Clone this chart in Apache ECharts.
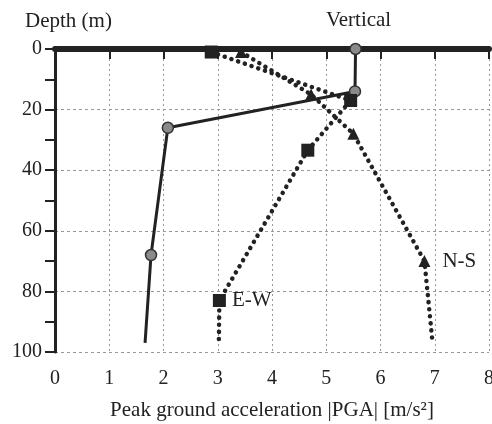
<!DOCTYPE html>
<html>
<head>
<meta charset="utf-8">
<script src="https://cdn.jsdelivr.net/npm/echarts@6/dist/echarts.min.js"></script>
<style>
  html, body { margin: 0; padding: 0; background: #fff; }
  #main { width: 492px; height: 424px; }
</style>
</head>
<body>
<div id="main"></div>
<script>
// PGA profiles vs depth
var vertPga = [5.54, 5.53, 2.08, 1.77, 1.66];
var vertDepth = [0, 14, 26, 68, 97];

var ewPga = [2.88, 5.45, 4.66, 3.03, 3.02];
var ewDepth = [1, 17, 33.4, 83, 97];

var nsPga = [3.43, 4.72, 5.5, 6.81, 6.96];
var nsDepth = [1, 15, 28, 70, 97];

var xTicks = [0, 1, 2, 3, 4, 5, 6, 7, 8];
var yTicks = [0, 20, 40, 60, 80, 100];

function pairs(xs, ys) {
    var out = [];
    for (var i = 0; i < xs.length; i++) out.push([xs[i], ys[i]]);
    return out;
}

var serif = 'Liberation Serif';
var ink = '#222';

var myChart = echarts.init(document.getElementById('main'));
var option = {
    animation : false,
    title : {
	text : 'Depth (m)',
	left : 20,
	top : 6,
	textStyle : { fontFamily : serif, fontSize : 21, fontWeight : 'normal', color : ink }
    },
    grid : { left : 55, right : 3, top : 49, bottom : 72, outerBoundsMode : 'none', containLabel : false },
    xAxis : [ {
	type : 'value',
	position : 'bottom',
	min : xTicks[0],
	max : xTicks[xTicks.length - 1],
	interval : 1,
	name : 'Peak ground acceleration |PGA| [m/s²]',
	nameLocation : 'middle',
	nameGap : 48,
	nameTextStyle : { fontFamily : serif, fontSize : 21, color : ink },
	axisLine : { lineStyle : { color : ink, width : 3 } },
	axisTick : { length : 10, lineStyle : { color : ink, width : 2 } },
	axisLabel : { margin : 17, fontFamily : serif, fontSize : 20, color : ink },
	splitLine : { show : true, lineStyle : { color : '#999', width : 1, type : [2, 3] } }
    }, {
	type : 'value',
	position : 'top',
	min : xTicks[0],
	max : xTicks[xTicks.length - 1],
	axisLine : { show : true, lineStyle : { color : ink, width : 6 } },
	axisTick : { show : false },
	axisLabel : { show : false },
	splitLine : { show : false }
    } ],
    yAxis : [ {
	type : 'value',
	inverse : true,
	min : yTicks[0],
	max : yTicks[yTicks.length - 1],
	interval : 20,
	axisLine : { show : true, lineStyle : { color : ink, width : 3 } },
	axisTick : { show : true, length : 10, lineStyle : { color : ink, width : 2 } },
	minorTick : { show : true, splitNumber : 2, length : 10, lineStyle : { color : ink, width : 2 } },
	axisLabel : { margin : 13, fontFamily : serif, fontSize : 20, color : ink },
	splitLine : { show : true, lineStyle : { color : '#999', width : 1, type : [3, 3] } }
    } ],
    series : [ {
	name : 'Vertical',
	type : 'line',
	data : pairs(vertPga, vertDepth),
	symbol : 'circle',
	symbolSize : function (v, p) { return p.dataIndex === vertPga.length - 1 ? 0 : 11; },
	lineStyle : { color : ink, width : 3 },
	itemStyle : { color : '#8a8a8a', borderColor : '#333', borderWidth : 1.5 },
	label : {
	    show : true,
	    position : 'top',
	    distance : 12,
	    offset : [3, 0],
	    fontFamily : serif,
	    fontSize : 21,
	    color : ink,
	    formatter : function (p) { return p.dataIndex === 0 ? 'Vertical' : ''; }
	},
	z : 3
    }, {
	name : 'E-W',
	type : 'line',
	data : pairs(ewPga, ewDepth),
	symbol : 'rect',
	symbolSize : function (v, p) { return p.dataIndex === ewPga.length - 1 ? 0 : 13; },
	lineStyle : { color : ink, width : 4.5, type : [0.1, 7], cap : 'round' },
	itemStyle : { color : ink },
	label : {
	    show : true,
	    position : 'right',
	    distance : 6,
	    fontFamily : serif,
	    fontSize : 21,
	    color : ink,
	    formatter : function (p) { return p.dataIndex === 3 ? 'E-W' : ''; }
	}
    }, {
	name : 'N-S',
	type : 'line',
	data : pairs(nsPga, nsDepth),
	symbol : 'triangle',
	symbolSize : function (v, p) { return p.dataIndex === nsPga.length - 1 ? 0 : 12; },
	lineStyle : { color : ink, width : 4.5, type : [0.1, 7], cap : 'round' },
	itemStyle : { color : ink },
	label : {
	    show : true,
	    position : 'right',
	    distance : 12,
	    fontFamily : serif,
	    fontSize : 21,
	    color : ink,
	    formatter : function (p) { return p.dataIndex === 3 ? 'N-S' : ''; }
	}
    } ]
};
myChart.setOption(option);
</script>
</body>
</html>
